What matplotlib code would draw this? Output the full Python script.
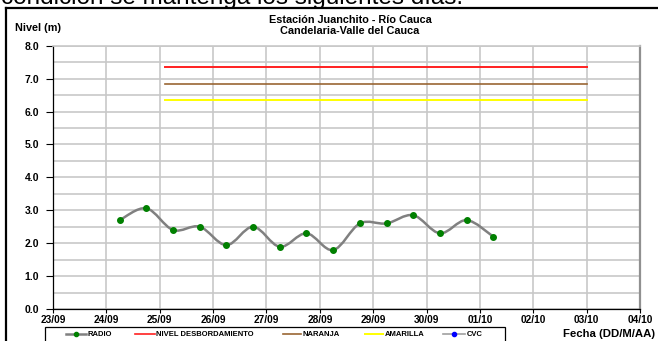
import numpy as np
import matplotlib
matplotlib.use("Agg")
import matplotlib.pyplot as plt
import matplotlib.dates as mdates
from matplotlib.path import Path
from matplotlib.patches import PathPatch, Rectangle
from matplotlib.lines import Line2D
from datetime import datetime

plt.rcParams['font.family'] = ['Liberation Sans', 'DejaVu Sans']

# ---------------- data ----------------
radio_times = ["2023-09-24 06:00", "2023-09-24 18:00", "2023-09-25 06:00", "2023-09-25 18:00",
               "2023-09-26 06:00", "2023-09-26 18:00", "2023-09-27 06:00", "2023-09-27 18:00",
               "2023-09-28 06:00", "2023-09-28 18:00", "2023-09-29 06:00", "2023-09-29 18:00",
               "2023-09-30 06:00", "2023-09-30 18:00", "2023-10-01 06:00"]
radio_values = [2.70, 3.06, 2.40, 2.50, 1.94, 2.50, 1.89, 2.30, 1.79, 2.60, 2.60, 2.85, 2.30, 2.70, 2.20]

threshold_start = "2023-09-25 02:30"
threshold_end = "2023-10-03 00:00"
nivel_desbordamiento = 7.35
naranja = 6.85
amarilla = 6.35

x_start = "2023-09-23"
x_end = "2023-10-04"
y_min, y_max = 0.0, 8.0

title_lines = ["Estación Juanchito - Río Cauca", "Candelaria-Valle del Cauca"]
ylabel = "Nivel (m)"
xlabel = "Fecha (DD/M/AA)"
legend_labels = ["RADIO", "NIVEL DESBORDAMIENTO", "NARANJA", "AMARILLA", "CVC"]
top_text = "condición se mantenga los siguientes días."

# ---------------- figure ----------------
W, H = 658, 341
fig = plt.figure(figsize=(W / 100, H / 100), dpi=100)

def fx(px):
    return px / W

def fy(py):
    return 1 - py / H

ax = fig.add_axes([fx(53), fy(309), fx(640) - fx(53), fy(45.7) - fy(309)])

to_num = lambda s: mdates.date2num(datetime.fromisoformat(s))
xs = np.array([to_num(t) for t in radio_times])
ys = np.array(radio_values)

# smoothed line (Catmull-Rom -> cubic Bezier), like Excel's smoothed line
verts = [(xs[0], ys[0])]
codes = [Path.MOVETO]
n = len(xs)
for i in range(n - 1):
    p0 = np.array([xs[max(i - 1, 0)], ys[max(i - 1, 0)]])
    p1 = np.array([xs[i], ys[i]])
    p2 = np.array([xs[i + 1], ys[i + 1]])
    p3 = np.array([xs[min(i + 2, n - 1)], ys[min(i + 2, n - 1)]])
    c1 = p1 + (p2 - p0) / 6.0
    c2 = p2 - (p3 - p1) / 6.0
    verts += [tuple(c1), tuple(c2), tuple(p2)]
    codes += [Path.CURVE4] * 3
ax.add_patch(PathPatch(Path(verts, codes), facecolor='none', edgecolor='#808080', lw=1.8, zorder=3))
ax.plot(xs, ys, linestyle='none', marker='o', markersize=4, color='#008000', zorder=4)

t0, t1 = to_num(threshold_start), to_num(threshold_end)
ax.plot([t0, t1], [nivel_desbordamiento] * 2, color='#ff2020', lw=1.4, zorder=3)
ax.plot([t0, t1], [naranja] * 2, color='#996633', lw=1.2, zorder=3)
ax.plot([t0, t1], [amarilla] * 2, color='#ffff00', lw=1.4, zorder=3)

ax.set_xlim(to_num(x_start), to_num(x_end))
ax.set_ylim(y_min, y_max)

ax.xaxis.set_major_locator(mdates.DayLocator())
ax.xaxis.set_major_formatter(mdates.DateFormatter('%d/%m'))
ax.yaxis.set_major_locator(matplotlib.ticker.MultipleLocator(1.0))
ax.yaxis.set_minor_locator(matplotlib.ticker.MultipleLocator(0.5))
ax.yaxis.set_major_formatter(matplotlib.ticker.FormatStrFormatter('%.1f'))

ax.grid(True, which='major', axis='x', color='#c8c8c8', lw=1.2, zorder=0)
ax.grid(True, which='both', axis='y', color='#c8c8c8', lw=1.2, zorder=0)
ax.set_axisbelow(True)

ax.tick_params(axis='y', which='major', length=5, width=0.8, labelsize=7.5, pad=5)
ax.tick_params(axis='y', which='minor', length=0)
ax.tick_params(axis='x', which='major', length=3, width=0.8, labelsize=7.3, pad=1)
for lab in ax.get_xticklabels() + ax.get_yticklabels():
    lab.set_fontweight('bold')

for s in ['left', 'bottom']:
    ax.spines[s].set_color('black')
    ax.spines[s].set_linewidth(0.9)
ax.spines['top'].set_color('#c8c8c8')
ax.spines['top'].set_linewidth(1.2)
ax.spines['right'].set_color('#909090')
ax.spines['right'].set_linewidth(1.6)

# texts
fig.text(fx(350), fy(20), title_lines[0], ha='center', va='center', fontsize=7.8, fontweight='bold')
fig.text(fx(350), fy(31), title_lines[1], ha='center', va='center', fontsize=7.8, fontweight='bold')
fig.text(fx(15), fy(28), ylabel, ha='left', va='center', fontsize=7.8, fontweight='bold')
fig.text(fx(655), fy(334), xlabel, ha='right', va='center', fontsize=8.2, fontweight='bold')
fig.text(fx(1), fy(4), top_text, ha='left', va='baseline', fontsize=17.5)

# outer frame
fig.add_artist(Line2D([fx(6), fx(6)], [fy(8), fy(345)], transform=fig.transFigure, color='black', lw=1.6))
fig.add_artist(Line2D([fx(6), fx(660)], [fy(8), fy(8)], transform=fig.transFigure, color='black', lw=1.6))

# legend (manual layout)
fig.add_artist(Rectangle((fx(45), fy(350)), fx(505) - fx(45), fy(327) - fy(350),
                         transform=fig.transFigure, facecolor='white', edgecolor='black', lw=0.9))
leg_y = fy(334)
handles = [
    (66, 86, '#808080', 1.8, '#008000'),
    (135, 155, '#ff2020', 1.2, None),
    (283, 301, '#996633', 1.2, None),
    (365, 383, '#ffff00', 1.4, None),
    (443, 465, '#a0a0a0', 1.2, '#0000ff'),
]
for (x0, x1, col, lw, mcol), lab in zip(handles, legend_labels):
    fig.add_artist(Line2D([fx(x0), fx(x1)], [leg_y, leg_y], transform=fig.transFigure, color=col, lw=lw))
    if mcol:
        fig.add_artist(Line2D([fx((x0 + x1) / 2)], [leg_y], transform=fig.transFigure, marker='o',
                              markersize=3, color=mcol, linestyle='none'))
    fig.text(fx(x1 + 1.5), leg_y, lab, ha='left', va='center', fontsize=5.5, fontweight='bold')

fig.savefig('out.png', dpi=100)
